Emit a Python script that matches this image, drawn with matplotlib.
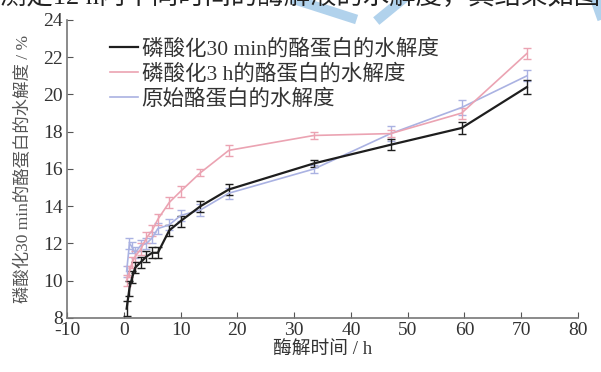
import matplotlib
matplotlib.use("Agg")
import matplotlib.pyplot as plt
from matplotlib.lines import Line2D

plt.rcParams["font.family"] = ["Liberation Serif", "Noto Sans CJK SC"]
plt.rcParams["axes.unicode_minus"] = False

# hydrolysis time (h)
t = [0.5, 1, 1.5, 2, 3, 4, 5, 6, 8, 10, 13.5, 18.5, 33.5, 47, 59.5, 71]

# degree of hydrolysis (%)
dh_30min = [8.5, 9.6, 10.2, 10.7, 11.0, 11.3, 11.5, 11.5, 12.7, 13.2, 14.0, 14.9, 16.3, 17.3, 18.2, 20.4]
err_30min = [0.4, 0.4, 0.3, 0.3, 0.3, 0.3, 0.3, 0.3, 0.3, 0.3, 0.3, 0.3, 0.2, 0.3, 0.3, 0.4]

dh_3h = [10.0, 10.5, 11.0, 11.3, 11.7, 12.3, 12.7, 13.3, 14.2, 14.8, 15.8, 17.0, 17.8, 17.9, 19.0, 22.2]
err_3h = [0.3, 0.3, 0.3, 0.3, 0.3, 0.3, 0.3, 0.3, 0.3, 0.3, 0.2, 0.3, 0.2, 0.2, 0.3, 0.3]

dh_raw = [10.5, 12.0, 11.8, 11.5, 11.9, 12.0, 12.3, 12.8, 13.0, 13.5, 13.8, 14.7, 16.0, 17.9, 19.3, 21.0]
err_raw = [0.3, 0.3, 0.3, 0.3, 0.3, 0.3, 0.3, 0.3, 0.3, 0.3, 0.3, 0.3, 0.2, 0.4, 0.4, 0.3]

series = [
    ("磷酸化30 min的酪蛋白的水解度", dh_30min, err_30min, "#1e1e1e", 1.6),
    ("磷酸化3 h的酪蛋白的水解度", dh_3h, err_3h, "#eba3b2", 1.2),
    ("原始酪蛋白的水解度", dh_raw, err_raw, "#aab2e2", 1.2),
]

fig = plt.figure(figsize=(6.01, 3.72), dpi=100)
ax = fig.add_axes([0.1115, 0.1452, 0.8502, 0.8011])

for label, y, e, c, lw in reversed(series):
    ax.errorbar(t, y, yerr=e, color=c, lw=lw, elinewidth=1.0, capsize=3, capthick=1.0)
handles = [Line2D([0], [0], color=c, lw=lw, label=label) for label, y, e, c, lw in series]

ax.set_xlim(-10, 80)
ax.set_ylim(8, 24)
ax.set_xticks(range(-10, 81, 10))
ax.set_yticks(range(8, 25, 2))
ax.spines["top"].set_visible(False)
ax.spines["right"].set_visible(False)
for s in ("left", "bottom"):
    ax.spines[s].set_color("#777777")
    ax.spines[s].set_linewidth(1.2)
ax.tick_params(direction="in", length=4, color="#555555", labelsize=14, labelcolor="#333333", pad=3)

ax.set_xlabel("酶解时间 / h", fontsize=13.5, color="#333333", labelpad=1)
ax.set_ylabel("磷酸化30 min的酪蛋白的水解度 / %", fontsize=12.5, color="#555555", labelpad=8)

leg = ax.legend(handles=handles, loc="upper left", bbox_to_anchor=(0.085, 0.935), frameon=False,
                fontsize=15.5, handlelength=1.3, handletextpad=0.15, labelspacing=0.2,
                borderaxespad=0, borderpad=0)
for txt in leg.get_texts():
    txt.set_color("#333333")

# cut-off page text and watermark at the very top
fig.text(0.0, 1.01, "测定12 h内不同时间的酶解液的水解度，其结果如图", fontsize=19, color="#222222",
         va="center", ha="left")
fig.add_artist(Line2D([296 / 601, 352 / 601], [1.0, 1 - 18 / 372], color="#a9cdea", lw=7, alpha=0.9))
fig.add_artist(Line2D([402 / 601, 380 / 601], [1.0, 1 - 18 / 372], color="#a9cdea", lw=7, alpha=0.9))
fig.add_artist(Line2D([596 / 601, 601 / 601], [1.0, 1 - 14 / 372], color="#a9cdea", lw=8, alpha=0.9))

fig.savefig("out.png", dpi=100)
